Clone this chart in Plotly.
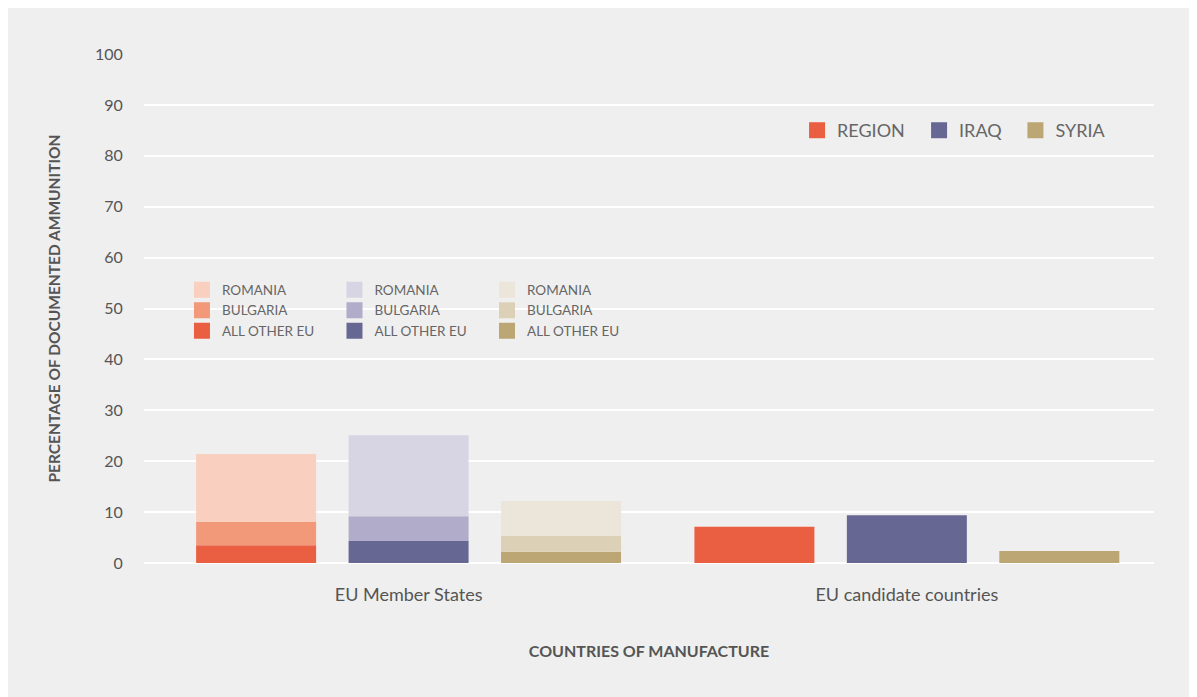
import plotly.graph_objects as go

categories = ["EU Member States", "EU candidate countries"]
countries = ["REGION", "IRAQ", "SYRIA"]
eu_other = [3.5, 4.3, 2.2]
eu_bulgaria = [4.55, 4.9, 3.1]
eu_romania = [13.35, 15.9, 6.9]
candidate = [7.1, 9.4, 2.35]
stack_labels = ["ROMANIA", "BULGARIA", "ALL OTHER EU"]
y_ticks = [0, 10, 20, 30, 40, 50, 60, 70, 80, 90, 100]

col_other = ["#EA5E42", "#676794", "#BBA674"]
col_bulg = ["#F2997A", "#B0ACC9", "#DCD0B7"]
col_rom = ["#F9CFBF", "#D7D5E3", "#ECE5DA"]

FONT = "Lato"
fig = go.Figure()

for i, c in enumerate(countries):
    fig.add_trace(go.Bar(x=categories, y=[eu_other[i], candidate[i]], base=[0, 0],
                         offsetgroup=c, marker=dict(color=col_other[i], line=dict(width=0)),
                         showlegend=False, name=c))
    fig.add_trace(go.Bar(x=[categories[0]], y=[eu_bulgaria[i]], base=[eu_other[i]],
                         offsetgroup=c, marker=dict(color=col_bulg[i], line=dict(width=0)),
                         showlegend=False, name=c + " Bulgaria"))
    fig.add_trace(go.Bar(x=[categories[0]], y=[eu_romania[i]], base=[eu_other[i] + eu_bulgaria[i]],
                         offsetgroup=c, marker=dict(color=col_rom[i], line=dict(width=0)),
                         showlegend=False, name=c + " Romania"))

legend_ids = ["legend", "legend2", "legend3"]
for i, c in enumerate(countries):
    for lab, col in zip(stack_labels, [col_rom[i], col_bulg[i], col_other[i]]):
        fig.add_trace(go.Scatter(x=[None], y=[None], mode="markers", name=lab,
                                 marker=dict(symbol="square", size=16, color=col, line=dict(width=0)),
                                 legend=legend_ids[i], showlegend=True))
top_ids = ["legend4", "legend5", "legend6"]
for i, c in enumerate(countries):
    fig.add_trace(go.Scatter(x=[None], y=[None], mode="markers", name=c,
                             marker=dict(symbol="square", size=20, color=col_other[i], line=dict(width=0)),
                             legend=top_ids[i], showlegend=True))

small_leg = dict(font=dict(family=FONT, size=13.5, color="#666"), bgcolor="rgba(0,0,0,0)",
                 orientation="v", yanchor="top", xanchor="left", tracegroupgap=0, itemclick=False)
top_leg = dict(font=dict(family=FONT, size=18, color="#666"), bgcolor="rgba(0,0,0,0)",
               orientation="h", y=0.886, xanchor="left", yanchor="top", itemclick=False)
fig.update_layout(
    width=1197, height=697,
    margin=dict(l=136, r=51, t=46, b=142),
    paper_bgcolor="#efefef", plot_bgcolor="rgba(0,0,0,0)",
    barmode="group", bargap=0.082, bargroupgap=0.213,
    font=dict(family=FONT, color="#555"),
    legend=dict(small_leg, x=0.0376, y=0.567),
    legend2=dict(small_leg, x=0.1886, y=0.567),
    legend3=dict(small_leg, x=0.3396, y=0.567),
    legend4=dict(top_leg, x=0.6466),
    legend5=dict(top_leg, x=0.7674),
    legend6=dict(top_leg, x=0.8628),
    xaxis=dict(type="category", range=[-0.531, 1.496], showgrid=False, zeroline=False,
               showline=False, ticks="outside", ticklen=15, tickcolor="rgba(0,0,0,0)",
               tickfont=dict(family=FONT, size=18, color="#555"),
               title=dict(text="<b>COUNTRIES OF MANUFACTURE</b>", standoff=42,
                          font=dict(family=FONT, size=16, color="#555"))),
    yaxis=dict(range=[0, 100], tickvals=y_ticks, showgrid=True, gridcolor="white", gridwidth=2,
               zeroline=True, zerolinecolor="white", zerolinewidth=2, showline=False,
               ticks="outside", ticklen=17, tickcolor="rgba(0,0,0,0)",
               tickfont=dict(family=FONT, size=16, color="#555"),
               title=dict(text="<b>PERCENTAGE OF DOCUMENTED AMMUNITION</b>", standoff=30,
                          font=dict(family=FONT, size=15.5, color="#555"))),
)

fig.write_html("out.html")
